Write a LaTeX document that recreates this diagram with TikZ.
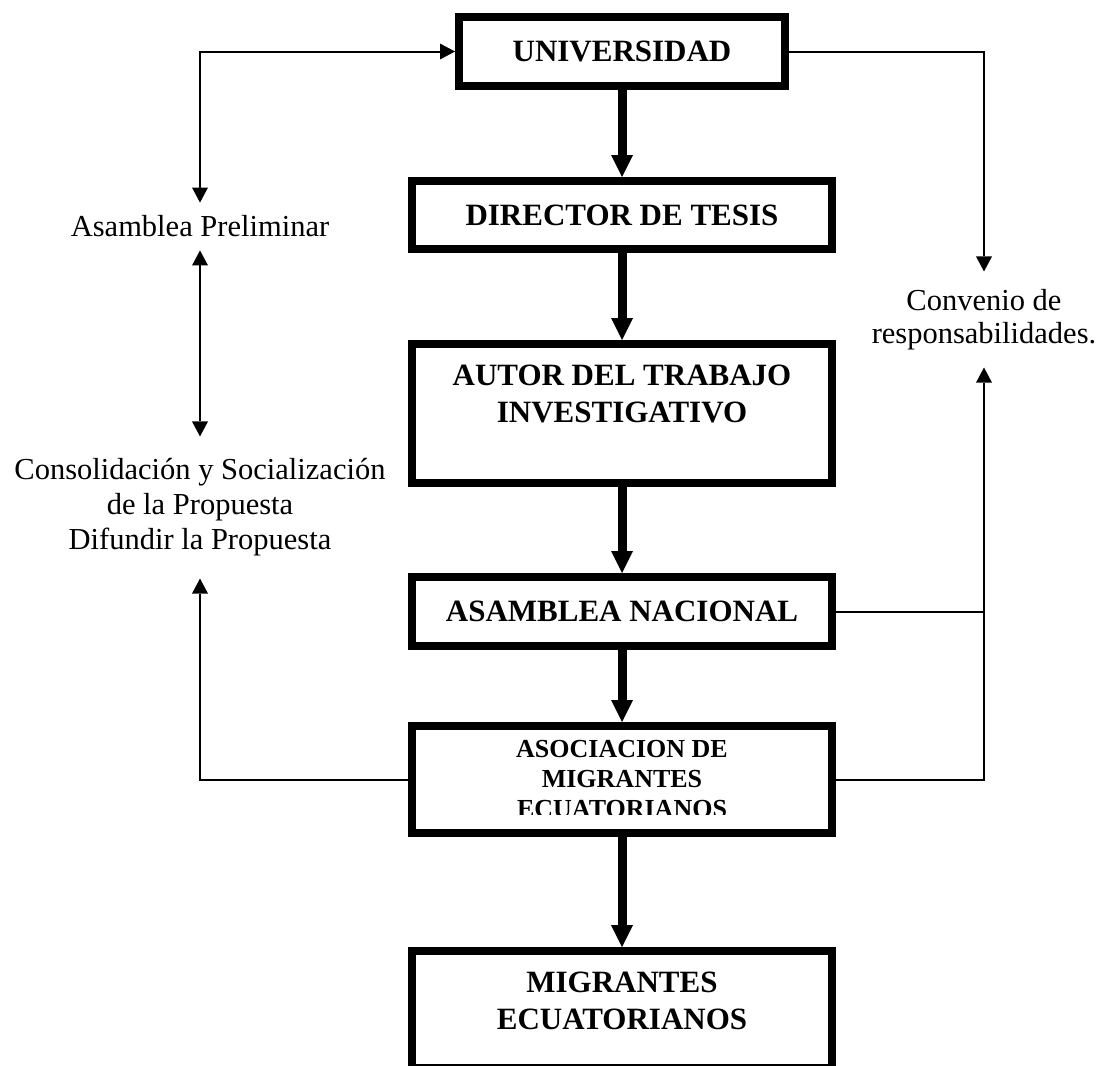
\documentclass[tikz,border=0pt]{standalone}
\usepackage{fontspec}
\setmainfont{Liberation Serif}
\usetikzlibrary{arrows.meta,positioning}

\begin{document}
\begin{tikzpicture}[
  x=1pt,y=-1pt,
  node distance=87pt,
  entity/.style={draw,line width=8pt,align=center,minimum width=420pt,minimum height=69pt,inner sep=0pt,font=\fontsize{31}{37}\selectfont\bfseries},
  flow/.style={-{Triangle[length=22pt,width=22pt,line width=0pt]},line width=9pt},
  link/.style={>={Triangle[length=15pt,width=16pt,line width=0pt]},line width=2pt},
  remark/.style={align=center,inner xsep=0pt,font=\fontsize{30.5}{35}\selectfont}
]
\useasboundingbox (0,0) rectangle (1101,1066);
\node[entity,minimum width=326pt] (n0) at (622,51.5) {UNIVERSIDAD};
\node[entity,below=of n0,minimum height=68pt] (n1) {DIRECTOR DE TESIS};
\draw[flow] (n0) -- (n1);
\node[entity,below=of n1,minimum height=139pt,text depth=40pt] (n2) {AUTOR DEL TRABAJO\\INVESTIGATIVO};
\draw[flow] (n1) -- (n2);
\node[entity,below=86pt of n2] (n3) {ASAMBLEA NACIONAL};
\draw[flow] (n2) -- (n3);
\node[entity,below=72pt of n3,minimum height=107pt,font=\fontsize{26}{30}\selectfont\bfseries] (n4) {ASOCIACION DE\\MIGRANTES\\ECUATORIANOS};
% ultima linea cortada como en el cuadro original
\fill[white] ([shift={(8pt,8pt)}]n4.south west) rectangle ([shift={(-8pt,22pt)}]n4.south east);
\draw[flow] (n3) -- (n4);
\node[entity,below=110pt of n4,minimum height=117pt,text depth=18pt] (n5) {MIGRANTES\\ECUATORIANOS};
\draw[flow] (n4) -- (n5);

% textos laterales
\node[remark,inner ysep=13pt] (t0) at (200,226.5) {Asamblea Preliminar};
\draw[link,<->] (t0) |- (n0);
\node[remark,inner ysep=22pt] (t1) at (200,507.5) {Consolidación y Socialización\\de la Propuesta\\Difundir la Propuesta};
\draw[link,<->] (t0) -- (t1);
\draw[link,->] (n4) -| (t1);
\node[remark,font=\fontsize{30.5}{33}\selectfont,inner ysep=17.5pt] (t2) at (984,319.5) {Convenio de\\responsabilidades.};
\draw[link,->] (n0) -| (t2);
\coordinate (j0) at (n3 -| t2);
\draw[link] (n3) -- (j0);
\draw[link,->] (n4) -| (t2);
\end{tikzpicture}
\end{document}
